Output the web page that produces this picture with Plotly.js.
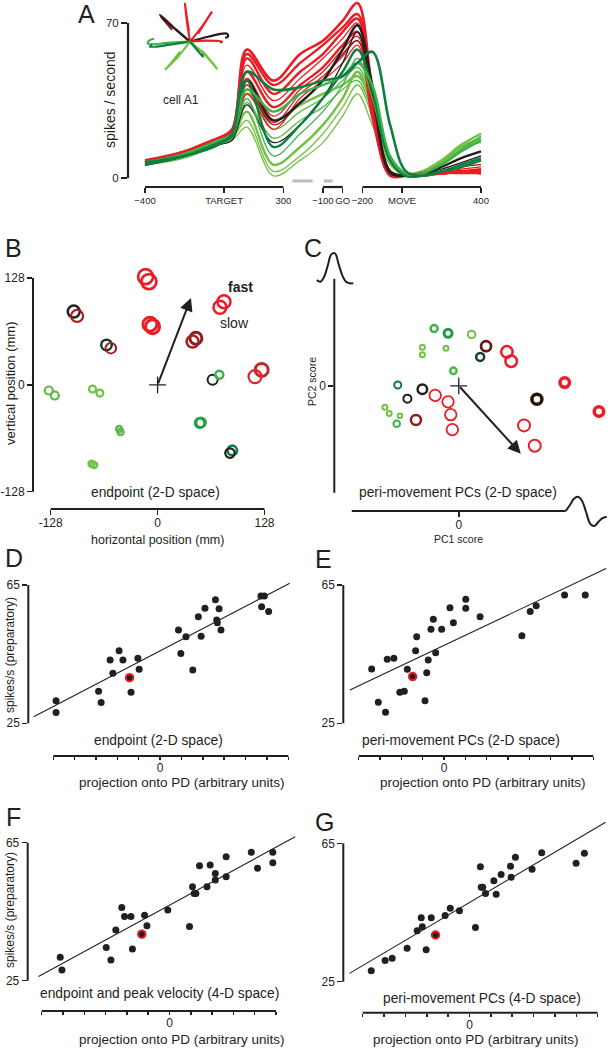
<!DOCTYPE html>
<html><head><meta charset="utf-8">
<script src="https://cdn.plot.ly/plotly-3.0.1.min.js"></script>
<style>html,body{margin:0;padding:0;background:#fff}#chart{width:612px;height:1050px}</style>
</head><body><div id="chart"></div>
<script>
const W = 612, H = 1050;
const INK = '#231f20';
const FONT = 'Liberation Sans, Arial, sans-serif';
const RED = '#ec1c24', DRED = '#8c1c1c', DRED2 = '#6e1616', DKRED = '#2e0d0d', BLK = '#231f20';
const DGRN = '#0e7f3f', DKGRN = '#163d22', GRN = '#3cb34a', LGRN = '#72c045', MGRN = '#1e9a48';

// ---------- Panel A: firing rate vs time (combined time axis) ----------
const aTime = [-400, -200, -30, 40, 115, 250, 385, 500, 600, 675, 750, 840, 920, 1000, 1100, 1200, 1300];
const rateLG1 = [6, 9, 15, 17, 23, 1, 8, 16, 28, 38, 24, 6, 1, 2, 8, 14, 16];
const rateLG2 = [7, 10, 16, 18, 26, 3, 10, 20, 32, 42, 28, 7, 1, 2, 7, 13, 17];
const rateLG3 = [6, 10, 15, 18, 30, 6, 14, 24, 36, 48, 32, 8, 1, 2, 7, 14, 18];
const rateLG4 = [7, 10, 16, 18, 34, 18, 26, 32, 40, 44, 30, 8, 2, 3, 7, 15, 20];
const rateLG5 = [7, 11, 16, 19, 38, 26, 33, 38, 42, 46, 34, 9, 2, 3, 8, 15, 20];
const rateLG6 = [6, 10, 15, 19, 42, 22, 30, 36, 44, 50, 36, 9, 1, 2, 6, 13, 18];
const rateR8 = [7, 11, 17, 19, 38, 22, 36, 44, 52, 60, 26, 1, 2, 2, 3, 3, 3];
const rateR7 = [6, 10, 15, 18, 42, 25, 38, 46, 55, 62, 28, 1, 1, 1, 2, 3, 4];
const rateR6 = [8, 11, 16, 19, 45, 28, 40, 48, 58, 64, 30, 1, 1, 1, 2, 2, 2];
const rateR5 = [7, 12, 18, 19, 48, 32, 42, 50, 60, 66, 30, 1, 1, 2, 2, 3, 3];
const rateR4 = [6, 10, 17, 20, 51, 35, 45, 54, 63, 70, 34, 2, 1, 2, 3, 4, 5];
const rateR3 = [7, 11, 16, 20, 54, 38, 48, 56, 66, 72, 35, 2, 1, 1, 2, 3, 2];
const rateR2 = [8, 12, 18, 22, 56, 42, 52, 60, 68, 74, 38, 2, 1, 2, 2, 3, 4];
const rateR1 = [7, 11, 17, 21, 58, 44, 56, 62, 71, 79, 40, 3, 1, 2, 2, 3, 3];
const rateDR = [7, 11, 16, 19, 40, 24, 34, 44, 56, 62, 35, 2, 1, 2, 3, 5, 6];
const rateK2 = [7, 11, 15, 17, 33, 16, 24, 36, 52, 66, 38, 2, 1, 2, 4, 7, 10];
const rateK1 = [6, 10, 16, 19, 44, 26, 34, 44, 58, 69, 42, 3, 1, 2, 5, 9, 12];
const rateG4 = [6, 10, 15, 18, 36, 10, 20, 30, 42, 54, 36, 8, 1, 2, 6, 13, 19];
const rateG2 = [6, 10, 16, 19, 44, 14, 24, 36, 48, 58, 40, 8, 1, 1, 3, 6, 9];
const rateG3 = [7, 11, 17, 20, 40, 30, 38, 42, 46, 52, 42, 10, 2, 2, 6, 12, 17];
const rateG1 = [7, 10, 15, 20, 48, 40, 41, 44, 46, 52, 57, 24, 3, 1, 3, 5, 8];
const aRates = [rateLG1, rateLG2, rateLG3, rateLG4, rateLG5, rateLG6, rateR8, rateR7, rateR6, rateR5, rateR4, rateR3, rateR2, rateR1, rateDR, rateK2, rateK1, rateG4, rateG2, rateG3, rateG1];
const aColors = [LGRN, LGRN, LGRN, '#5cb947', LGRN, '#5cb947', RED, RED, RED, RED, RED, RED, RED, RED, DRED, BLK, BLK, GRN, DGRN, GRN, DGRN];
const aWidths = [1.3, 1.3, 2.4, 1.3, 2.4, 1.3, 1.3, 1.3, 1.3, 2.4, 1.3, 2.4, 2.4, 2.6, 1.3, 1.3, 2.4, 1.3, 2.4, 2.4, 2.6];
const aTickVals = [-400, 0, 300, 500, 600, 700, 900, 1300];
const aTickText = ['\u2212400', 'TARGET', '300', '\u2212100', 'GO', '\u2212200', 'MOVE', '400'];
const aSegments = [[-400, 300], [500, 600], [700, 1300]];
const aCueBars = [[346, 448], [504, 549]];
const aCueLevel = -1.35;

// inset: reach trajectories (x right, y up), out-and-back loops
const insetX = [[0, -3, -5, -4, -1], [0, 12, 22, 20, 8], [0, -15, -30, -28, -18], [0, -14, -29, -24], [0, 18, 37, 38, 35], [0, 16, 32, 30], [0, -20, -42, -41, -36], [0, -20, -40, -38], [0, -12, -25, -22, -10], [0, 14, 27, 24, 12], [0, 7, 13, 12]];
const insetY = [[0, 20, 38, 30, 10], [0, 15, 30, 27, 8], [0, 13, 27, 24, 12], [0, 12, 25, 20], [0, 5, 8, 5, 4], [0, 1, 0, -1], [0, -1, -2, 1, 3], [0, -3, -5, -3], [0, -15, -28, -25, -10], [0, -12, -27, -23, -9], [0, -8, -15, -12]];
const insetColor = [RED, RED, DRED, BLK, BLK, RED, GRN, DGRN, LGRN, LGRN, DGRN];

// ---------- Panel B: endpoints ----------
const bX = [-14.4, -10.4, -9.2, -6, 79.5, 74.7, 45.9, 41.9, 124.7, 116.7, -100.4, -96.4, -61.2, -56, 65.9, 73.9, 51.9, 50.5, 89.4, 86.7, -130.3, -123.1, -77.9, -69.2, -46, -44.4, -79.1, -76];
const bY = [129.5, 123.6, 72.6, 69.7, 99.6, 92.9, 55.8, 51.8, 17.9, 9.9, 87.7, 82.5, 47.8, 43.9, 6, 12, -45.1, -45.8, -78.6, -81.7, -6.8, -12.8, -5.1, -9.9, -53, -56.6, -94.5, -96];
const bColor = [RED, RED, RED, RED, RED, RED, DRED, '#a81c24', '#c1272d', RED, BLK, '#a81c24', DKGRN, '#a81c24', BLK, GRN, GRN, MGRN, DGRN, BLK, '#5cb947', '#5cb947', LGRN, LGRN, '#5cb947', '#5cb947', LGRN, LGRN];
const bSize = [15, 15, 14, 14, 13, 13, 12, 12, 13, 13, 12, 12, 10.5, 10.5, 10, 8, 9.5, 9.5, 9.5, 9.5, 8, 8, 7, 7, 6, 6, 6, 6];
const bLineW = [2.7, 2.7, 3, 3, 2.5, 2.5, 3, 2.5, 3, 2.2, 2.5, 2.2, 2.5, 2, 2, 2.5, 2.7, 2.5, 2.7, 2.2, 2.2, 2.2, 2.2, 2.2, 2.5, 2.5, 2.5, 2.5];
const bPD = [40, 104];

// ---------- Panel C: PC scores ----------
const cX = [-0.23, -0.10, 0.12, 0.255, 0.20, 0.45, 0.49, -0.34, -0.34, -0.12, -0.05, 0.99, 1.31, 0.73, -0.57, -0.34, -0.48, -0.22, -0.10, -0.075, -0.06, -0.40, -0.69, -0.65, -0.55, -0.58, 0.61, 0.71];
const cY = [0.535, 0.49, 0.48, 0.37, 0.27, 0.317, 0.23, 0.36, 0.29, 0.35, 0.14, 0.03, -0.24, -0.125, 0.007, -0.033, -0.12, -0.09, -0.15, -0.27, -0.41, -0.32, -0.20, -0.26, -0.28, -0.355, -0.37, -0.56];
const cColor = [GRN, MGRN, LGRN, DRED2, DKGRN, RED, RED, LGRN, LGRN, LGRN, '#4cb748', RED, RED, DKRED, DGRN, BLK, BLK, RED, RED, RED, RED, DRED, LGRN, LGRN, LGRN, GRN, RED, RED];
const cSize = [7, 8, 7.5, 10, 8, 11.5, 11.5, 5, 5, 5, 6.5, 9.5, 9.5, 10, 7, 9.5, 8, 11.5, 11.5, 11.5, 11.5, 10, 5, 5, 4.5, 6.5, 12, 12];
const cLineW = [2.5, 3, 2, 2.7, 2.5, 2.5, 2.5, 2, 2, 2, 2.5, 3.5, 3.5, 3.5, 2, 2.5, 2, 1.8, 1.8, 1.8, 1.8, 2.5, 2, 2, 2, 2, 2, 2];
const cPD = [0.58, -0.635];
const pc2GlyphX = [0, 1, 2, 3, 4, 5, 6, 7, 8, 9, 10];
const pc2GlyphY = [0.1, 0.05, 0.2, 0.55, 0.92, 0.95, 0.6, 0.25, 0.05, 0.0, 0.0];
const pc1GlyphX = [0, 1, 2, 3, 4, 5, 6, 7, 8, 9, 10];
const pc1GlyphY = [0, 0.4, 0.85, 1.0, 0.7, -0.1, -0.9, -1.05, -0.75, -0.5, -0.4];

// ---------- Panels D-G: rate vs projection ----------
const dX = [-4.87, -4.87, -2.88, -2.76, -2.34, -1.92, -1.74, -2.21, -1.43, -1.36, -1.04, -0.98, 0.86, 0.97, 1.21, 1.53, 1.79, 1.92, 2.10, 2.59, 2.76, 2.65, 2.68, 2.85, 4.72, 4.88, 4.75, 5.08];
const dY = [31.5, 28.1, 34.3, 31.0, 43.3, 46.0, 43.3, 39.5, 38.2, 34.0, 43.8, 40.6, 52.0, 45.2, 50.0, 40.4, 55.8, 50.2, 58.3, 60.7, 58.1, 54.9, 54.1, 52.0, 61.8, 61.8, 58.7, 57.3];
const dFitX = [-5.92, 6.07], dFitY = [26.9, 65.5];
const dHighlight = 8;
const eX = [-3.39, -3.08, -2.74, -2.66, -2.35, -2.07, -1.86, -1.72, -1.47, -1.33, -1.28, -0.89, -0.81, -0.74, -0.39, -0.61, -0.50, -0.11, 0.28, 0.44, 1.02, 1.02, 1.69, 3.65, 4.04, 4.32, 5.65, 6.62];
const eY = [40.7, 31.1, 28.2, 43.5, 43.8, 34.0, 34.3, 40.6, 38.5, 46.0, 50.0, 31.5, 39.6, 43.3, 45.4, 52.2, 55.1, 52.2, 58.4, 54.1, 60.9, 58.3, 55.8, 50.3, 57.3, 59.0, 62.1, 62.1];
const eFitX = [-4.41, 7.6], eFitY = [34.6, 69.8];
const eHighlight = 8;
const fX = [-5.13, -5.05, -2.97, -2.75, -2.52, -2.24, -2.11, -1.81, -1.74, -1.30, -1.17, -1.06, -0.08, 0.94, 1.08, 1.16, 1.24, 1.41, 1.76, 1.91, 2.15, 2.15, 2.66, 2.66, 3.84, 4.13, 4.85, 4.85];
const fY = [31.8, 28.1, 34.6, 31.0, 39.7, 46.2, 43.6, 43.6, 34.2, 38.5, 44.0, 40.9, 45.5, 40.7, 52.2, 50.3, 50.3, 58.3, 52.2, 58.5, 56.1, 54.2, 60.9, 55.1, 62.2, 57.6, 62.2, 59.2];
const fFitX = [-6.15, 5.9], fFitY = [26.2, 66.7];
const fHighlight = 9;
const gX = [-4.60, -3.95, -3.62, -2.92, -2.45, -2.26, -2.21, -2.03, -1.79, -1.59, -1.14, -0.90, -0.47, 0.28, 0.51, 0.55, 0.62, 0.75, 1.14, 1.25, 1.48, 1.92, 1.95, 2.15, 2.93, 3.38, 4.99, 5.38];
const gY = [28.2, 31.1, 31.8, 34.7, 39.7, 43.5, 40.9, 34.2, 43.5, 38.5, 44.1, 46.2, 45.5, 40.7, 58.2, 52.3, 52.3, 50.5, 54.2, 50.3, 56.0, 58.4, 55.2, 61.0, 57.5, 62.3, 59.2, 62.1];
const gFitX = [-5.62, 6.37], gFitY = [27.4, 71.1];
const gHighlight = 9;
const rateTicks = [25, 65];

// ---------- helpers ----------
function xAx(p0, p1, range, o) {
  return Object.assign({domain: [p0 / W, p1 / W], range: range, showgrid: false, zeroline: false, showline: false,
    ticks: 'outside', ticklen: 5, tickwidth: 1.5, tickcolor: INK, tickangle: 0,
    tickfont: {family: FONT, size: 12, color: INK}, fixedrange: true}, o || {});
}
function yAx(top, bottom, range, o) {
  return Object.assign({domain: [1 - bottom / H, 1 - top / H], range: range, showgrid: false, zeroline: false, showline: false,
    ticks: 'outside', ticklen: 5, tickwidth: 1.5, tickcolor: INK, tickangle: 0,
    tickfont: {family: FONT, size: 12, color: INK}, fixedrange: true}, o || {});
}
function hidden(p0, p1, top, bottom, xr, yr) {
  return [{domain: [p0 / W, p1 / W], range: xr, visible: false, fixedrange: true},
          {domain: [1 - bottom / H, 1 - top / H], range: yr, visible: false, fixedrange: true}];
}
function seg(xref, yref, x0, y0, x1, y1, w) {
  return {type: 'line', xref: xref, yref: yref, x0: x0, y0: y0, x1: x1, y1: y1, line: {color: INK, width: w || 2}, layer: 'above'};
}
function txt(text, px, py, size, o) {
  return Object.assign({text: text, x: px / W, y: 1 - py / H, xref: 'paper', yref: 'paper', showarrow: false,
    xanchor: 'center', yanchor: 'middle', font: {family: FONT, size: size, color: INK}}, o || {});
}
function ticks(a, b) { const v = []; for (let i = a; i <= b; i++) v.push(i); return v; }
function zeroOnly(v) { return v.map(t => t === 0 ? '0' : ''); }
function projX(p0, p1, range, a, b) {
  return xAx(p0, p1, range, {tickvals: ticks(a, b), ticktext: zeroOnly(ticks(a, b)), ticklen: 3, ticklabelstandoff: -2});
}

const traces = [];
// Panel A curves
aRates.forEach((r, i) => traces.push({x: aTime, y: r, xaxis: 'x', yaxis: 'y', mode: 'lines',
  line: {color: aColors[i], width: aWidths[i], shape: 'spline', smoothing: 1}, hoverinfo: 'skip'}));
aCueBars.forEach(b => traces.push({x: b, y: [aCueLevel, aCueLevel], xaxis: 'x', yaxis: 'y', mode: 'lines',
  line: {color: '#bdbdbd', width: 3}, hoverinfo: 'skip', cliponaxis: false}));
// inset
insetX.forEach((xs, i) => traces.push({x: xs, y: insetY[i], xaxis: 'x2', yaxis: 'y2', mode: 'lines',
  line: {color: insetColor[i], width: 2.2, shape: 'spline', smoothing: 1}, hoverinfo: 'skip'}));
// Panel B
traces.push({x: bX, y: bY, xaxis: 'x3', yaxis: 'y3', mode: 'markers', cliponaxis: false, hoverinfo: 'skip',
  marker: {symbol: 'circle-open', size: bSize, color: bColor, opacity: 1, line: {width: bLineW}}});
traces.push({x: [0], y: [0], xaxis: 'x3', yaxis: 'y3', mode: 'markers', hoverinfo: 'skip',
  marker: {symbol: 'cross-thin-open', size: 12, color: INK, opacity: 1, line: {width: 1.3}}});
// Panel C
traces.push({x: cX, y: cY, xaxis: 'x4', yaxis: 'y4', mode: 'markers', cliponaxis: false, hoverinfo: 'skip',
  marker: {symbol: 'circle-open', size: cSize, color: cColor, opacity: 1, line: {width: cLineW}}});
traces.push({x: [0], y: [0], xaxis: 'x4', yaxis: 'y4', mode: 'markers', hoverinfo: 'skip',
  marker: {symbol: 'cross-thin-open', size: 12, color: INK, opacity: 1, line: {width: 1.3}}});
traces.push({x: pc2GlyphX, y: pc2GlyphY, xaxis: 'x5', yaxis: 'y5', mode: 'lines', hoverinfo: 'skip',
  line: {color: INK, width: 2, shape: 'spline', smoothing: 1}});
traces.push({x: pc1GlyphX, y: pc1GlyphY, xaxis: 'x6', yaxis: 'y6', mode: 'lines', hoverinfo: 'skip',
  line: {color: INK, width: 2, shape: 'spline', smoothing: 1}});
// Panels D-G
[[dX, dY, dFitX, dFitY, dHighlight, '7'], [eX, eY, eFitX, eFitY, eHighlight, '8'],
 [fX, fY, fFitX, fFitY, fHighlight, '9'], [gX, gY, gFitX, gFitY, gHighlight, '10']].forEach(p => {
  const [xs, ys, fx, fy, hi, n] = p;
  traces.push({x: fx, y: fy, xaxis: 'x' + n, yaxis: 'y' + n, mode: 'lines', hoverinfo: 'skip',
    line: {color: INK, width: 1.1}});
  traces.push({x: xs, y: ys, xaxis: 'x' + n, yaxis: 'y' + n, mode: 'markers', hoverinfo: 'skip', cliponaxis: false,
    marker: {symbol: 'circle', size: xs.map((_, i) => i === hi ? 7.5 : 7), color: INK, opacity: 1,
      line: {color: xs.map((_, i) => i === hi ? RED : INK), width: xs.map((_, i) => i === hi ? 2 : 0)}}});
});

const ins = hidden(140, 235, 0, 80, [-50, 45], [-38.3, 41.7]);
const g2 = hidden(313, 357, 246, 290, [-1.01, 11.01], [-0.212, 1.18]);
const g1 = hidden(562, 611, 490, 532, [-0.902, 11.05], [-1.469, 1.469]);

const layout = {
  width: W, height: H, margin: {l: 0, r: 0, t: 0, b: 0}, showlegend: false,
  paper_bgcolor: '#ffffff', plot_bgcolor: 'rgba(0,0,0,0)', font: {family: FONT, color: INK},
  xaxis: xAx(128, 490, [-486, 1345.5], {anchor: 'y', tickvals: aTickVals, ticktext: aTickText, tickfont: {family: FONT, size: 9.5, color: INK}}),
  yaxis: yAx(0, 187, [-4.06, 80.39], {anchor: 'x', tickvals: [0, 70], ticklen: 6, tickfont: {family: FONT, size: 11.5, color: INK}}),
  xaxis2: Object.assign(ins[0], {anchor: 'y2'}), yaxis2: Object.assign(ins[1], {anchor: 'x2'}),
  xaxis3: xAx(33, 280, [-149.2, 146.6], {anchor: 'y3', tickvals: [-128, 0, 128], ticktext: ['-128', '0', '128'], ticklabelstandoff: -2}),
  yaxis3: yAx(265, 509, [-148.7, 143.5], {anchor: 'x3', tickvals: [-128, 0, 128], ticktext: ['-128', '0', '128']}),
  xaxis4: xAx(334.3, 612, [-1.163, 1.432], {anchor: 'y4', tickvals: [0], ticktext: ['0'], ticklabelstandoff: -2}),
  yaxis4: yAx(270, 511, [-1.170, 1.082], {anchor: 'x4', tickvals: [0], ticktext: ['0']}),
  xaxis5: Object.assign(g2[0], {anchor: 'y5'}), yaxis5: Object.assign(g2[1], {anchor: 'x5'}),
  xaxis6: Object.assign(g1[0], {anchor: 'y6'}), yaxis6: Object.assign(g1[1], {anchor: 'x6'}),
  xaxis7: Object.assign(projX(28.3, 295, [-6.169, 6.314], -5, 6), {anchor: 'y7'}),
  yaxis7: yAx(575, 756, [15.54, 67.89], {anchor: 'x7', tickvals: rateTicks}),
  xaxis8: Object.assign(projX(343.3, 610, [-4.719, 7.779], -4, 7), {anchor: 'y8'}),
  yaxis8: yAx(565, 756, [15.54, 70.78], {anchor: 'x8', tickvals: rateTicks}),
  xaxis9: Object.assign(projX(27.7, 300, [-6.657, 6.127], -6, 5), {anchor: 'y9'}),
  yaxis9: yAx(830, 1011, [16.22, 68.68], {anchor: 'x9', tickvals: rateTicks}),
  xaxis10: Object.assign(projX(343.3, 610, [-5.908, 6.578], -5, 6), {anchor: 'y10'}),
  yaxis10: yAx(815, 1012.7, [16.04, 73.18], {anchor: 'x10', tickvals: rateTicks}),
  shapes: [
    seg('x domain', 'y', 0, 0, 0, 70, 2.2),
    ...aSegments.map(s => seg('x', 'y domain', s[0], 0, s[1], 0, 2.2)),
    seg('x3 domain', 'y3', 0, -128, 0, 128), seg('x3', 'y3 domain', -128, 0, 128, 0),
    seg('x4 domain', 'y4', 0, -1, 0, 1), seg('x4', 'y4 domain', -1, 0, 1, 0),
    seg('x7 domain', 'y7', 0, 25, 0, 65), seg('x7', 'y7 domain', -5, 0, 6, 0),
    seg('x8 domain', 'y8', 0, 25, 0, 65), seg('x8', 'y8 domain', -4, 0, 7, 0),
    seg('x9 domain', 'y9', 0, 25, 0, 65), seg('x9', 'y9 domain', -6, 0, 5, 0),
    seg('x10 domain', 'y10', 0, 25, 0, 65), seg('x10', 'y10 domain', -5, 0, 6, 0)
  ],
  annotations: [
    txt('A', 86, 14, 25), txt('B', 13.5, 248, 25), txt('C', 312.5, 248, 25),
    txt('D', 14, 558, 25), txt('E', 323, 559, 25), txt('F', 14, 817, 25), txt('G', 324, 822, 25),
    txt('spikes / second', 110, 100, 14, {textangle: -90}),
    txt('cell A1', 181, 100, 12),
    txt('vertical position (mm)', 10, 383, 13, {textangle: -90}),
    txt('horizontal position (mm)', 157, 539.5, 12.5),
    txt('endpoint (2-D space)', 155, 492, 13.8),
    txt('PC2 score', 312, 382, 10.5, {textangle: -90}),
    txt('PC1 score', 458, 539, 10.5),
    txt('peri-movement PCs (2-D space)', 458, 493, 13.8),
    txt('spikes/s (preparatory)', 10, 655, 12, {textangle: -90}),
    txt('endpoint (2-D space)', 158, 740, 13.8),
    txt('projection onto PD (arbitrary units)', 182, 782, 13.5),
    txt('peri-movement PCs (2-D space)', 460.7, 740, 13.8),
    txt('projection onto PD (arbitrary units)', 483, 782, 13.5),
    txt('spikes/s (preparatory)', 10, 910, 12, {textangle: -90}),
    txt('endpoint and peak velocity (4-D space)', 159, 993, 13.8),
    txt('projection onto PD (arbitrary units)', 182, 1039, 13.5),
    txt('peri-movement PCs (4-D space)', 482, 998, 13.8),
    txt('projection onto PD (arbitrary units)', 476, 1039, 13.5),
    {text: '<b>fast</b>', x: 98.7, y: 117, xref: 'x3', yref: 'y3', showarrow: false, font: {family: FONT, size: 14, color: INK}},
    {text: 'slow', x: 92.7, y: 74, xref: 'x3', yref: 'y3', showarrow: false, font: {family: FONT, size: 14, color: INK}},
    {text: '', x: bPD[0], y: bPD[1], ax: 0, ay: 0, xref: 'x3', yref: 'y3', axref: 'x3', ayref: 'y3',
      showarrow: true, arrowhead: 2, arrowsize: 1.3, arrowwidth: 2, arrowcolor: INK},
    {text: '', x: cPD[0], y: cPD[1], ax: 0, ay: 0, xref: 'x4', yref: 'y4', axref: 'x4', ayref: 'y4',
      showarrow: true, arrowhead: 2, arrowsize: 1.3, arrowwidth: 2, arrowcolor: INK}
  ]
};

Plotly.newPlot('chart', traces, layout, {staticPlot: true, displayModeBar: false});
</script>
</body></html>
